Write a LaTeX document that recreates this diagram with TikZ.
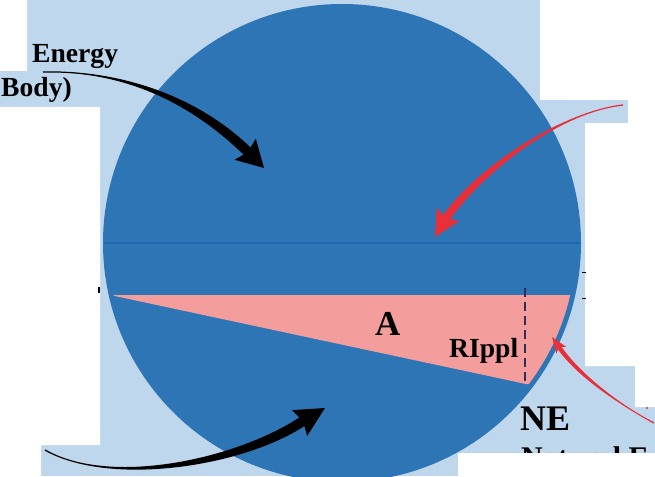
\documentclass[tikz,border=0pt]{standalone}
\usepackage{fontspec}
\setmainfont{Liberation Serif}
\usepackage{tikz}
\usetikzlibrary{calc}
\definecolor{fond}{RGB}{190,215,237}
\definecolor{disque}{RGB}{46,117,182}
\definecolor{trait}{RGB}{34,102,178}
\definecolor{rose}{RGB}{243,158,156}
\definecolor{rouge}{RGB}{232,48,58}
\definecolor{tirets}{RGB}{48,46,88}
\tikzset{lbl/.style={inner sep=0pt,anchor=base west,font=\bfseries\fontsize{27.6}{30}\selectfont},
	grand/.style={lbl,font=\bfseries\fontsize{35}{38}\selectfont}}
\newcommand{\fleche}[8]{%
	\coordinate (tb) at ($(#5)!-4pt!(#6)$);
	\fill[#1] ($(#2)!0.7pt!-90:(#3)$) .. controls (#3) and ($(#4)!#7!-90:(#5)$) .. ($(#5)!#7!90:(#4)$)
		-- ($(#5)!#7!-90:(#4)$) .. controls ($(#4)!#7!90:(#5)$) and (#3) .. ($(#2)!0.7pt!90:(#3)$) -- cycle;
	\fill[#1] (#6) -- ($(tb)!#8!90:(#6)$) -- (#5) -- ($(tb)!#8!-90:(#6)$) -- cycle;
}
\begin{document}
\begin{tikzpicture}[x=1pt,y=-1pt]
	\useasboundingbox (0,0) rectangle (655,476);
	\clip (0,0) rectangle (655,476);
	\fill[fond] (0,0) rectangle (655,476);
	\fill[white] (0,0) rectangle (27,71) (0,107) rectangle (100,445) (0,445) rectangle (41,476)
		(540,0) rectangle (655,100) (628,100) rectangle (655,123)
		(585,123) rectangle (655,366) (635,366) rectangle (655,407);
	\fill[disque] (342,243) circle (239pt);
	\draw[trait, line width=2.5pt] (104,243) -- (580,243);
	\begin{scope}
		\clip (342,243) circle (234pt);
		\fill[rose] (110,295) -- (600,295) -- (600,384) -- (526,384) -- cycle;
	\end{scope}
	\draw[tirets, line width=1.8pt, dash pattern=on 9pt off 5pt] (525,288) -- (525,383);
	\node[lbl] (energy) at (32,63) {Energy};
	\node[lbl] (body) at (1,97) {Body)};
	\node[grand] (a) at (375,335) {A};
	\node[lbl] (rippl) at (449,357) {RIppl};
	\node[grand, font=\bfseries\fontsize{36}{40}\selectfont] (ne) at (520,430) {NE};
	\node[lbl, font=\bfseries\fontsize{30}{32}\selectfont] (nat) at (521,467) {Natural E};
	\coordinate (eTail) at (43,72);
	\coordinate (eC1) at (130,70);
	\coordinate (eC2) at (200,105);
	\coordinate (eNeck) at (248,152);
	\coordinate (eTip) at (264,168);
	\coordinate (rTail) at (623,105);
	\coordinate (rC1) at (560,112);
	\coordinate (rC2) at (480,170);
	\coordinate (rNeck) at (446,218);
	\coordinate (rTip) at (435,237);
	\coordinate (bTail) at (45,450);
	\coordinate (bC1) at (110,487);
	\coordinate (bC2) at (240,463);
	\coordinate (bNeck) at (303,421);
	\coordinate (bTip) at (325,408);
	\coordinate (nTail) at (654,423);
	\coordinate (nC1) at (620,405);
	\coordinate (nC2) at (578,375);
	\coordinate (nNeck) at (559,347);
	\coordinate (nTip) at (552,337);
	\fleche{black}{eTail}{eC1}{eC2}{eNeck}{eTip}{5pt}{15pt}
	\fleche{rouge}{rTail}{rC1}{rC2}{rNeck}{rTip}{4pt}{13pt}
	\fleche{black}{bTail}{bC1}{bC2}{bNeck}{bTip}{5pt}{15pt}
	\fleche{rouge}{nTail}{nC1}{nC2}{nNeck}{nTip}{2.2pt}{6pt}
	\draw[line width=1pt] (582,272) -- (586,272) (582,298) -- (586,298);
	\draw[line width=2pt] (99,287) -- (99,293);
	\fill[rouge] (647,408) circle (1.2pt);
	\fill[white] (458,453) rectangle (655,476);
\end{tikzpicture}
\end{document}
